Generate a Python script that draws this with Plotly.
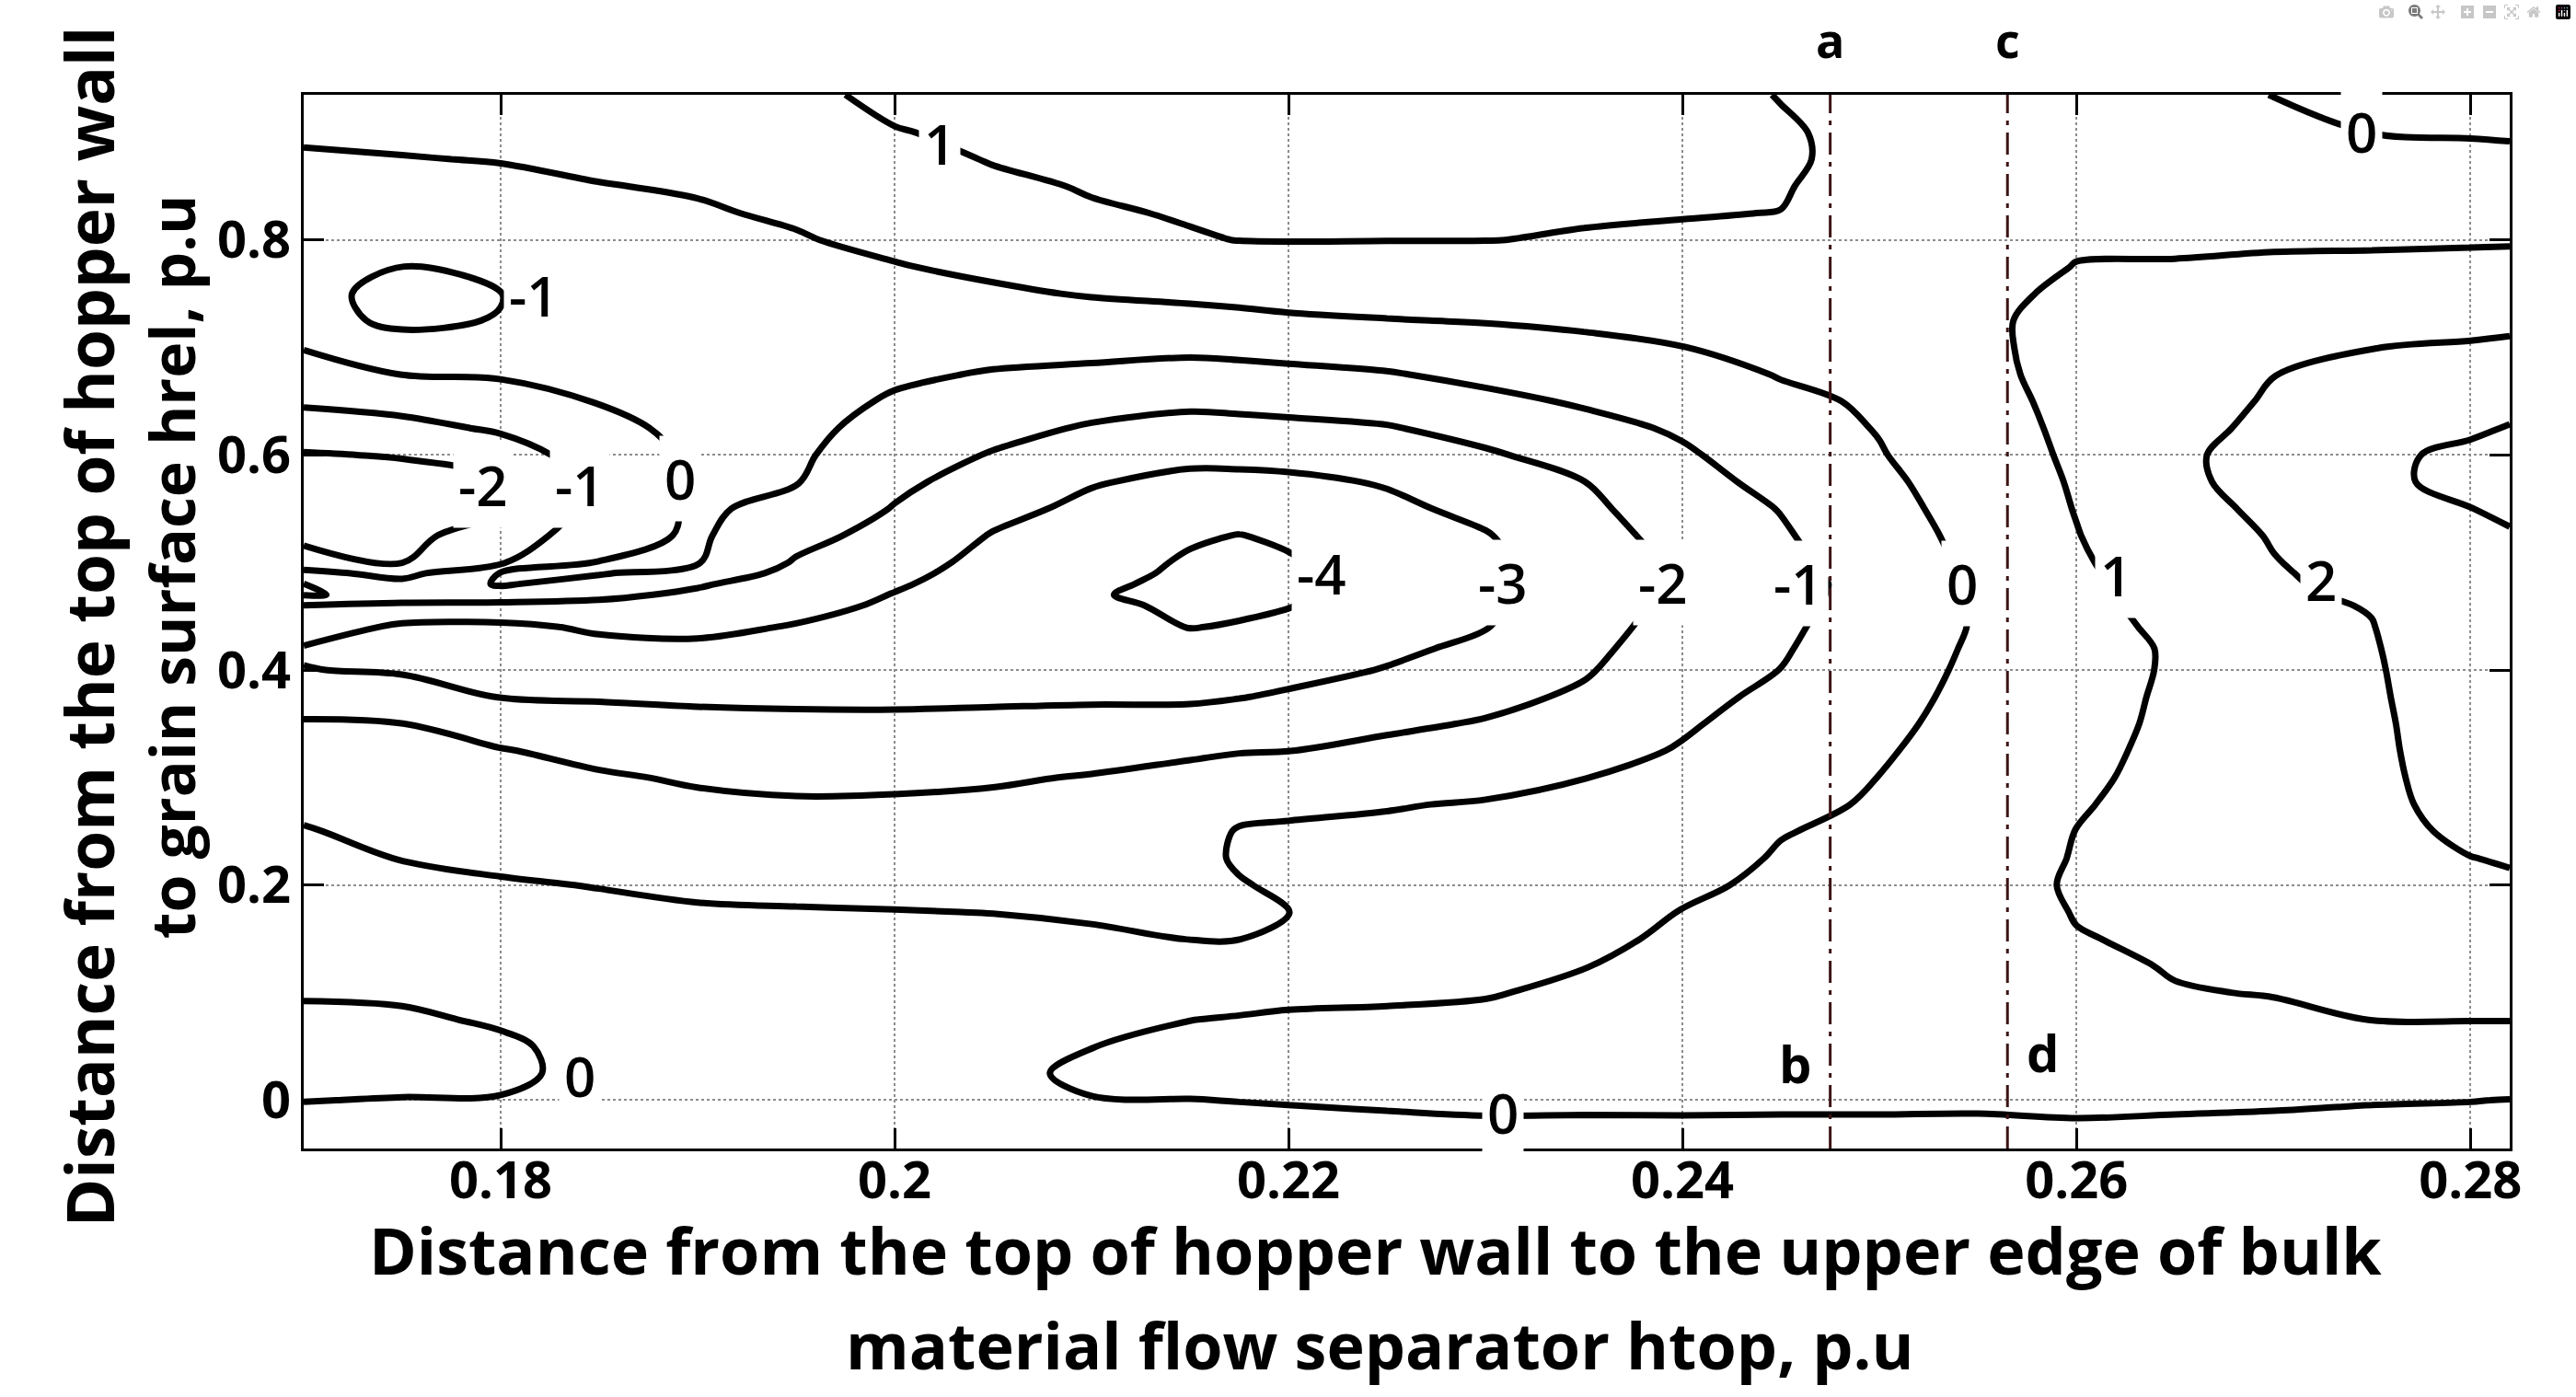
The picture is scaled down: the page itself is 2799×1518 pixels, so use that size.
import numpy as np
import plotly.graph_objects as go

# ---------------- data -----------------------------------------
# sampling positions of the field
x_values = [0.170, 0.175, 0.180, 0.185, 0.190, 0.195, 0.200, 0.205, 0.210, 0.215,
            0.2175, 0.220, 0.225, 0.230, 0.235, 0.240, 0.245, 0.250, 0.255, 0.260,
            0.265, 0.270, 0.275, 0.280, 0.282]
y_values = [-0.045, -0.02, 0.0, 0.025, 0.05, 0.075, 0.1, 0.125, 0.15, 0.175, 0.2,
            0.225, 0.25, 0.275, 0.3, 0.325, 0.35, 0.375, 0.4, 0.42, 0.44, 0.46,
            0.47, 0.48, 0.49, 0.5, 0.525, 0.55, 0.575, 0.6, 0.625, 0.65, 0.675,
            0.7, 0.725, 0.75, 0.775, 0.8, 0.825, 0.85, 0.875, 0.9, 0.935]

# field values, one list per x column (bottom -> top)
col_0170 = [-0.30, -0.12, 0.01, 0.17, 0.27, 0.11, -0.05, -0.20, -0.35, -0.50, -0.65, -0.80, -0.95, -1.17, -1.42, -1.67, -1.92, -2.39, -2.98, -3.07, -2.56, -2.03, -0.97, -0.98, -1.70, -2.64, -3.21, -3.45, -3.30, -3.06, -2.50, -1.85, -1.24, -0.975, -0.93, -0.87, -0.71, -0.56, -0.40, -0.24, -0.08, 0.10, 0.40]
col_0175 = [-0.30, -0.14, -0.02, 0.16, 0.26, 0.09, -0.09, -0.28, -0.46, -0.65, -0.83, -1.02, -1.21, -1.41, -1.60, -1.80, -1.99, -2.66, -3.07, -3.19, -3.14, -2.32, -1.10, -1.70, -2.33, -3.02, -3.21, -3.42, -3.30, -2.95, -2.29, -1.64, -0.99, -0.92, -1.04, -1.135, -1.01, -0.77, -0.52, -0.28, -0.03, 0.16, 0.40]
col_0180 = [-0.30, -0.15, -0.03, 0.13, 0.10, -0.07, -0.24, -0.42, -0.59, -0.77, -0.94, -1.13, -1.34, -1.54, -1.75, -1.95, -2.45, -3.02, -3.15, -3.26, -3.19, -2.27, -1.38, -0.92, -0.96, -2.09, -2.62, -3.04, -3.03, -2.49, -1.87, -1.27, -0.94, -0.87, -0.99, -1.01, -0.83, -0.61, -0.39, -0.17, 0.03, 0.18, 0.40]
col_0185 = [-0.30, -0.26, -0.22, -0.18, -0.20, -0.34, -0.47, -0.61, -0.74, -0.87, -1.02, -1.24, -1.46, -1.68, -1.90, -2.25, -2.68, -3.07, -3.30, -3.25, -2.87, -2.20, -1.82, -1.36, -0.93, -0.97, -1.35, -1.66, -1.84, -1.54, -1.23, -0.97, -0.85, -0.73, -0.62, -0.50, -0.38, -0.26, -0.14, -0.02, 0.11, 0.25, 0.45]
col_0190 = [-0.35, -0.32, -0.29, -0.26, -0.35, -0.46, -0.58, -0.70, -0.82, -0.94, -1.11, -1.35, -1.59, -1.83, -2.10, -2.44, -2.79, -3.12, -3.45, -3.17, -2.81, -2.37, -2.15, -1.91, -1.45, -0.95, -0.88, -0.86, -0.86, -0.84, -0.78, -0.70, -0.61, -0.52, -0.43, -0.33, -0.24, -0.15, -0.06, 0.05, 0.18, 0.31, 0.50]
col_0195 = [-0.40, -0.37, -0.34, -0.31, -0.39, -0.50, -0.62, -0.73, -0.85, -0.96, -1.16, -1.41, -1.66, -1.91, -2.20, -2.51, -2.82, -3.15, -3.50, -3.28, -3.05, -2.75, -2.58, -2.42, -2.26, -2.09, -1.68, -1.27, -0.96, -0.86, -0.76, -0.66, -0.56, -0.46, -0.35, -0.25, -0.15, -0.05, 0.08, 0.25, 0.41, 0.57, 0.80]
col_0200 = [-0.45, -0.42, -0.39, -0.36, -0.44, -0.55, -0.65, -0.76, -0.87, -0.98, -1.19, -1.43, -1.66, -1.89, -2.18, -2.50, -2.83, -3.15, -3.47, -3.50, -3.31, -3.12, -3.03, -2.91, -2.79, -2.67, -2.36, -2.05, -1.80, -1.56, -1.32, -1.09, -0.87, -0.66, -0.45, -0.25, -0.04, 0.16, 0.36, 0.56, 0.76, 0.96, 1.20]
col_0205 = [-0.35, -0.25, -0.18, -0.15, -0.22, -0.38, -0.54, -0.69, -0.85, -1.01, -1.21, -1.42, -1.63, -1.84, -2.09, -2.44, -2.80, -3.12, -3.41, -3.64, -3.68, -3.53, -3.46, -3.38, -3.31, -3.24, -3.05, -2.75, -2.40, -2.06, -1.72, -1.39, -1.06, -0.74, -0.43, -0.11, 0.15, 0.39, 0.62, 0.86, 1.04, 1.15, 1.30]
col_0210 = [-0.30, -0.15, -0.02, 0.11, -0.01, -0.22, -0.45, -0.67, -0.89, -1.09, -1.26, -1.43, -1.61, -1.78, -1.95, -2.32, -2.75, -3.10, -3.32, -3.50, -3.68, -3.86, -3.95, -3.86, -3.76, -3.67, -3.44, -3.20, -2.94, -2.51, -2.09, -1.64, -1.18, -0.75, -0.34, 0.05, 0.34, 0.63, 0.93, 1.05, 1.13, 1.20, 1.30]
col_0215 = [-0.25, -0.11, -0.01, 0.21, 0.19, -0.01, -0.34, -0.69, -1.01, -1.16, -1.30, -1.25, -1.35, -1.73, -1.87, -2.07, -2.64, -3.13, -3.48, -3.77, -4.02, -4.12, -4.17, -4.18, -4.13, -4.09, -3.91, -3.55, -3.20, -2.79, -2.30, -1.81, -1.32, -0.81, -0.29, 0.17, 0.56, 0.95, 1.05, 1.11, 1.16, 1.22, 1.30]
col_02175 = [-0.25, -0.11, 0.01, 0.22, 0.27, 0.05, -0.28, -0.66, -1.01, -1.13, -1.05, -0.91, -0.94, -1.25, -1.64, -2.04, -2.54, -3.03, -3.38, -3.66, -3.95, -4.12, -4.19, -4.26, -4.27, -4.20, -4.02, -3.63, -3.21, -2.76, -2.26, -1.76, -1.27, -0.76, -0.23, 0.25, 0.68, 1.01, 1.07, 1.12, 1.17, 1.23, 1.30]
col_0220 = [-0.25, -0.10, 0.03, 0.26, 0.31, 0.10, -0.18, -0.50, -0.82, -1.02, -0.87, -0.70, -0.89, -1.17, -1.59, -2.01, -2.45, -2.89, -3.26, -3.54, -3.81, -4.03, -4.08, -4.13, -4.13, -4.08, -3.88, -3.52, -3.16, -2.72, -2.20, -1.70, -1.21, -0.68, -0.13, 0.31, 0.71, 1.02, 1.07, 1.12, 1.17, 1.23, 1.30]
col_0225 = [-0.25, -0.08, 0.08, 0.31, 0.35, 0.09, -0.09, -0.22, -0.35, -0.49, -0.62, -0.75, -0.88, -1.04, -1.41, -1.78, -2.16, -2.56, -2.96, -3.17, -3.36, -3.56, -3.65, -3.75, -3.67, -3.59, -3.38, -3.17, -2.94, -2.50, -2.06, -1.57, -1.06, -0.55, -0.03, 0.35, 0.72, 1.01, 1.07, 1.12, 1.17, 1.23, 1.30]
col_0230 = [-0.25, -0.05, 0.13, 0.36, 0.40, 0.16, -0.05, -0.18, -0.31, -0.44, -0.56, -0.69, -0.82, -0.95, -1.23, -1.58, -1.93, -2.25, -2.56, -2.82, -3.03, -3.13, -3.18, -3.23, -3.23, -3.18, -3.05, -2.80, -2.46, -2.11, -1.69, -1.22, -0.78, -0.37, 0.04, 0.36, 0.68, 1.01, 1.06, 1.11, 1.17, 1.22, 1.30]
col_0235 = [-0.25, -0.05, 0.11, 0.30, 0.50, 0.33, 0.15, -0.02, -0.16, -0.30, -0.44, -0.58, -0.72, -0.86, -1.01, -1.29, -1.57, -1.86, -2.09, -2.23, -2.38, -2.52, -2.59, -2.67, -2.66, -2.59, -2.40, -2.21, -2.01, -1.65, -1.27, -0.90, -0.54, -0.18, 0.13, 0.41, 0.68, 0.96, 1.05, 1.11, 1.16, 1.22, 1.30]
col_0240 = [-0.20, -0.04, 0.10, 0.27, 0.43, 0.44, 0.33, 0.23, 0.12, 0.02, -0.13, -0.29, -0.46, -0.62, -0.78, -0.94, -1.09, -1.23, -1.38, -1.50, -1.61, -1.73, -1.78, -1.84, -1.90, -1.83, -1.65, -1.47, -1.29, -1.11, -0.89, -0.60, -0.30, -0.01, 0.22, 0.45, 0.68, 0.90, 1.03, 1.10, 1.16, 1.22, 1.30]
col_0245 = [-0.20, -0.04, 0.08, 0.21, 0.34, 0.47, 0.44, 0.36, 0.29, 0.21, 0.14, 0.06, -0.03, -0.19, -0.35, -0.51, -0.67, -0.83, -0.99, -1.08, -1.16, -1.24, -1.28, -1.28, -1.24, -1.20, -1.09, -0.97, -0.77, -0.56, -0.36, -0.16, 0.04, 0.20, 0.35, 0.51, 0.67, 0.83, 0.99, 1.06, 1.14, 1.09, 0.97]
col_0250 = [-0.20, -0.03, 0.06, 0.15, 0.24, 0.33, 0.43, 0.49, 0.42, 0.35, 0.28, 0.21, 0.15, 0.08, 0.01, -0.08, -0.18, -0.28, -0.38, -0.46, -0.54, -0.62, -0.66, -0.70, -0.65, -0.59, -0.46, -0.32, -0.19, -0.05, 0.04, 0.10, 0.17, 0.24, 0.30, 0.37, 0.43, 0.50, 0.56, 0.63, 0.69, 0.76, 0.85]
col_0255 = [-0.20, -0.03, 0.05, 0.11, 0.18, 0.25, 0.32, 0.39, 0.46, 0.53, 0.60, 0.545, 0.49, 0.435, 0.38, 0.325, 0.27, 0.215, 0.16, 0.116, 0.07, 0.08, 0.115, 0.15, 0.18, 0.21, 0.29, 0.38, 0.46, 0.54, 0.62, 0.70, 0.78, 0.86, 0.91, 0.89, 0.86, 0.84, 0.81, 0.79, 0.76, 0.74, 0.70]
col_0260 = [-0.20, -0.02, 0.10, 0.24, 0.39, 0.53, 0.67, 0.82, 0.96, 1.04, 1.10, 1.05, 1.01, 0.94, 0.86, 0.78, 0.70, 0.63, 0.55, 0.62, 0.68, 0.75, 0.79, 0.82, 0.85, 0.89, 0.97, 1.03, 1.08, 1.14, 1.19, 1.24, 1.29, 1.24, 1.16, 1.08, 1.01, 0.96, 0.92, 0.88, 0.84, 0.80, 0.75]
col_0265 = [-0.20, -0.05, 0.10, 0.32, 0.53, 0.75, 0.96, 1.05, 1.12, 1.18, 1.25, 1.30, 1.27, 1.25, 1.22, 1.20, 1.17, 1.15, 1.12, 1.10, 1.19, 1.29, 1.34, 1.38, 1.43, 1.48, 1.59, 1.71, 1.83, 1.85, 1.74, 1.62, 1.50, 1.38, 1.27, 1.15, 1.03, 0.93, 0.83, 0.73, 0.63, 0.54, 0.40]
col_0270 = [-0.20, -0.07, 0.07, 0.34, 0.60, 0.86, 1.03, 1.09, 1.15, 1.21, 1.26, 1.32, 1.38, 1.44, 1.50, 1.56, 1.62, 1.68, 1.73, 1.78, 1.83, 1.87, 1.90, 1.92, 1.94, 1.97, 2.05, 2.17, 2.28, 2.31, 2.19, 2.09, 1.99, 1.77, 1.55, 1.33, 1.11, 0.91, 0.73, 0.56, 0.38, 0.21, -0.02]
col_0275 = [-0.25, -0.10, 0.03, 0.36, 0.69, 1.01, 1.12, 1.24, 1.36, 1.48, 1.60, 1.72, 1.80, 1.85, 1.87, 1.88, 1.89, 1.91, 1.93, 1.95, 1.98, 2.03, 2.10, 2.16, 2.22, 2.29, 2.44, 2.60, 2.84, 2.84, 2.57, 2.38, 2.19, 1.99, 1.71, 1.43, 1.16, 0.90, 0.67, 0.45, 0.22, -0.01, -0.20]
col_0280 = [-0.25, -0.11, 0.01, 0.35, 0.69, 1.02, 1.18, 1.34, 1.50, 1.66, 1.82, 1.99, 2.12, 2.20, 2.25, 2.30, 2.34, 2.38, 2.42, 2.48, 2.56, 2.63, 2.67, 2.71, 2.75, 2.79, 2.89, 2.99, 3.20, 3.16, 2.88, 2.61, 2.34, 2.07, 1.79, 1.49, 1.20, 0.92, 0.67, 0.42, 0.17, -0.05, -0.25]
col_0282 = [-0.25, -0.11, -0.01, 0.34, 0.69, 1.02, 1.20, 1.38, 1.56, 1.74, 1.93, 2.04, 2.12, 2.19, 2.26, 2.33, 2.41, 2.48, 2.55, 2.62, 2.68, 2.75, 2.78, 2.81, 2.84, 2.87, 2.96, 3.08, 3.24, 3.20, 3.04, 2.77, 2.45, 2.13, 1.82, 1.52, 1.22, 0.93, 0.67, 0.41, 0.14, -0.07, -0.30]

columns = [col_0170, col_0175, col_0180, col_0185, col_0190, col_0195, col_0200,
           col_0205, col_0210, col_0215, col_02175, col_0220, col_0225, col_0230,
           col_0235, col_0240, col_0245, col_0250, col_0255, col_0260, col_0265,
           col_0270, col_0275, col_0280, col_0282]
for c in columns:
    assert len(c) == len(y_values), len(c)
z_values = np.column_stack(columns)

# contour labels as printed on the reference (text, x, y)
label_text = ["1", "-1", "-2", "-1", "0", "-4", "-3", "-2", "-1", "0", "1", "2", "0", "0", "0"]
label_x = [0.2023, 0.1817, 0.1791, 0.1840, 0.1891, 0.2217, 0.2309, 0.2390, 0.2459, 0.2542, 0.2620, 0.2724, 0.2745, 0.1840, 0.2309]
label_y = [0.890, 0.748, 0.572, 0.572, 0.578, 0.4897, 0.481, 0.481, 0.4805, 0.4805, 0.488, 0.4836, 0.9007, 0.0222, -0.0115]

# flow separator positions (a-b and c-d)
separator_x = [0.2475, 0.2565]
separator_top_text = ["a", "c"]
separator_bottom_text = ["b", "d"]
separator_bottom_x = [0.2457, 0.2583]
separator_bottom_y = [0.035, 0.045]

x_ticks = [0.18, 0.20, 0.22, 0.24, 0.26, 0.28]
x_tick_text = ["0.18", "0.2", "0.22", "0.24", "0.26", "0.28"]
y_ticks = [0.0, 0.2, 0.4, 0.6, 0.8]
y_tick_text = ["0", "0.2", "0.4", "0.6", "0.8"]

x_range = [0.17, 0.282]
y_range = [-0.045, 0.935]

# ---------------- figure -----------------
FONT = "Open Sans"
fig = go.Figure()

fig.add_trace(go.Contour(
    x=x_values, y=y_values, z=z_values,
    contours=dict(start=-4, end=3, size=1, coloring="lines", showlabels=False),
    line=dict(width=7, smoothing=1.0),
    colorscale=[[0, "black"], [1, "black"]],
    showscale=False, hoverinfo="skip",
))

for sx in separator_x:
    fig.add_trace(go.Scatter(
        x=[sx, sx], y=y_range, mode="lines",
        line=dict(color="#3d1414", width=3, dash="24px,8px,5px,8px"),
        hoverinfo="skip", showlegend=False,
    ))

annotations = []
for t, lx, ly in zip(label_text, label_x, label_y):
    annotations.append(dict(
        x=lx, y=ly, xref="x", yref="y", text=t, showarrow=False,
        font=dict(family=FONT, size=60, color="black", weight=600),
        bgcolor="white", borderpad=5, xanchor="center", yanchor="middle"))

for t, sx in zip(separator_top_text, separator_x):
    annotations.append(dict(
        x=sx, y=1.053, xref="x", yref="paper", text="<b>%s</b>" % t, showarrow=False,
        font=dict(family=FONT, size=52, color="black"), xanchor="center", yanchor="middle"))
for t, bx, by in zip(separator_bottom_text, separator_bottom_x, separator_bottom_y):
    annotations.append(dict(
        x=bx, y=by, xref="x", yref="y", text="<b>%s</b>" % t, showarrow=False,
        font=dict(family=FONT, size=56, color="black"), xanchor="center", yanchor="middle"))

# axis titles
annotations += [
    dict(x=0.486, y=-0.096, xref="paper", yref="paper", showarrow=False,
         text="<b>Distance from the top of hopper wall to the upper edge of bulk</b>",
         font=dict(family=FONT, size=70, color="black"), xanchor="center", yanchor="middle"),
    dict(x=0.488, y=-0.186, xref="paper", yref="paper", showarrow=False,
         text="<b>material flow separator htop, p.u</b>",
         font=dict(family=FONT, size=70, color="black"), xanchor="center", yanchor="middle"),
    dict(x=-0.0976, y=0.495, xref="paper", yref="paper", showarrow=False, textangle=-90,
         text="<b>Distance from the top of hopper wall</b>",
         font=dict(family=FONT, size=71, color="black"), xanchor="center", yanchor="middle"),
    dict(x=-0.0600, y=0.552, xref="paper", yref="paper", showarrow=False, textangle=-90,
         text="<b>to grain surface hrel, p.u</b>",
         font=dict(family=FONT, size=66, color="black"), xanchor="center", yanchor="middle"),
]

axis_common = dict(
    ticks="inside", ticklen=22, tickwidth=2.5, tickcolor="black",
    mirror="allticks", showline=True, linecolor="black", linewidth=2.5,
    showgrid=True, gridcolor="#8c8c8c", griddash="dot", gridwidth=2,
    zeroline=False, tickfont=dict(family=FONT, size=56, color="black", weight="bold"),
)

fig.update_layout(
    width=2799, height=1518,
    margin=dict(l=330, r=72, t=103, b=270),
    paper_bgcolor="white", plot_bgcolor="white",
    showlegend=False,
    xaxis=dict(range=x_range, tickvals=x_ticks, ticktext=x_tick_text,
               ticklabelstandoff=-16, **axis_common),
    yaxis=dict(range=y_range, tickvals=y_ticks, ticktext=y_tick_text, **axis_common),
    annotations=annotations,
)

fig.write_html("out.html", post_script="document.body.style.margin='0px';")
